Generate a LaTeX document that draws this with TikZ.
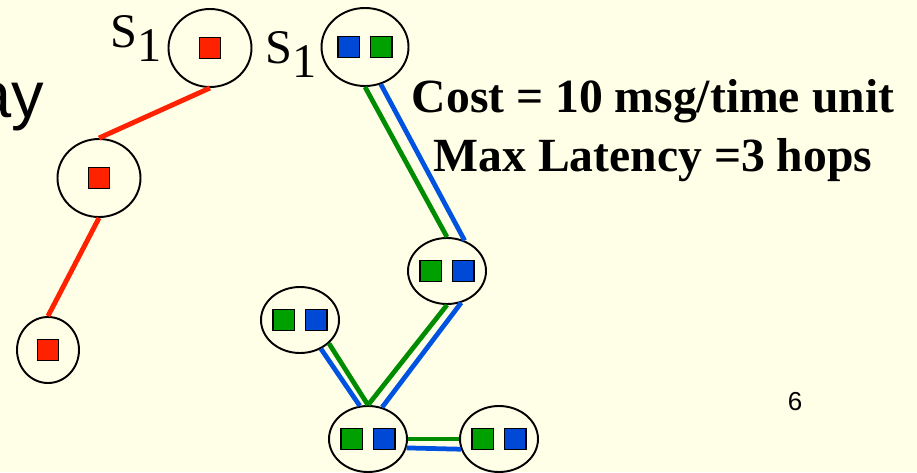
\documentclass[tikz,border=0pt]{standalone}
\usepackage{fontspec}
\usepackage{tikz}
\usepackage{xcolor}
\usetikzlibrary{positioning,shapes.geometric}
\setmainfont{Liberation Serif}
\newfontfamily\slidesans{Liberation Sans}
\definecolor{slidebg}{HTML}{FFFFE8}
\definecolor{msgred}{HTML}{FF2200}
\definecolor{msgblue}{HTML}{0049D6}
\definecolor{msggreen}{HTML}{00A000}
\definecolor{linkgreen}{HTML}{008C00}
\definecolor{linkblue}{HTML}{0052E0}
\newcommand{\msgsq}[1]{{\setlength{\fboxsep}{0pt}\setlength{\fboxrule}{0.8pt}%
  \fcolorbox{black}{#1}{\rule{0pt}{0.40cm}\rule{0.40cm}{0pt}}}}
\newcommand{\msgpair}[2]{\msgsq{#1}\hspace{0.19cm}\msgsq{#2}}

\begin{document}
\begin{tikzpicture}[
      cell/.style={ellipse,draw,line width=1.1pt,fill=slidebg,inner sep=0pt,
                   minimum width=1.56cm,minimum height=1.32cm},
      bigcell/.style={cell,minimum width=1.66cm,minimum height=1.56cm},
      redlink/.style={draw=msgred,line width=2.8pt},
      greenlink/.style={draw=linkgreen,line width=2.7pt},
      bluelink/.style={draw=linkblue,line width=2.7pt},
      srclabel/.style={font=\fontsize{27.5}{30}\selectfont,inner sep=0pt,
                   anchor=base west}
    ]
    \useasboundingbox (0,0) rectangle (18.34,-9.44);
    \fill[slidebg] (0,0) rectangle (18.34,-9.44);
    \node[font=\slidesans\fontsize{37}{40}\selectfont,inner sep=0pt,
      anchor=base east] (cutword) at (0.89,-2.34) {ay};
    % red tree
    \node[bigcell] (rtop) at (4.20,-0.96) {\raisebox{-0.1cm}{\msgsq{msgred}}};
    \node[bigcell] (rmid) at (1.98,-3.56) {\raisebox{-0.1cm}{\msgsq{msgred}}};
    \node[cell,minimum width=1.24cm] (rlow) at (0.96,-7.00) {\msgsq{msgred}};
    \node[srclabel] (srcred) at (2.20,-0.94) {S\raisebox{-0.28cm}{1}};
    \draw[redlink] (rtop.south) -- (rmid.north);
    \draw[redlink] (rmid.south) -- (rlow.north);
    % green/blue tree
    \node[bigcell,minimum width=1.74cm] (gbtop) at (7.30,-0.94)
      {\raisebox{-0.08cm}{\msgpair{msgblue}{msggreen}}};
    \node[srclabel] (srcgb) at (5.30,-1.26) {S\raisebox{-0.28cm}{1}};
    \node[cell] (gbmid) at (8.94,-5.42) {\msgpair{msggreen}{msgblue}};
    \node[cell] (gbleft) at (6.00,-6.40) {\msgpair{msggreen}{msgblue}};
    \node[cell] (gbhub) at (7.36,-8.78) {\msgpair{msggreen}{msgblue}};
    \node[cell] (gbright) at (9.98,-8.78) {\msgpair{msggreen}{msgblue}};
    \draw[greenlink] (gbtop.-90) -- (gbmid.90);
    \draw[bluelink] (gbtop.-67) -- (gbmid.60);
    \draw[greenlink] (gbmid.-90) -- (gbhub.90);
    \draw[bluelink] (gbmid.-66) -- (gbhub.66);
    \draw[bluelink] (gbleft.-54) -- (gbhub.104);
    \draw[greenlink] (gbleft.-39) -- (gbhub.90);
    \draw[greenlink] (gbhub.0) -- (gbright.180);
    \draw[bluelink] (gbhub.-13) -- (gbright.195);
    \node[font=\bfseries\fontsize{27.1}{33.6}\selectfont,align=center,
      inner sep=0pt,anchor=north] (cost) at (13.06,-1.58)
      {Cost = 10 msg/time unit\\Max Latency =3 hops};
    \node[font=\slidesans\fontsize{14.8}{16}\selectfont,inner sep=0pt]
      (pagenum) at (15.90,-8.04) {6};
  \end{tikzpicture}
\end{document}
